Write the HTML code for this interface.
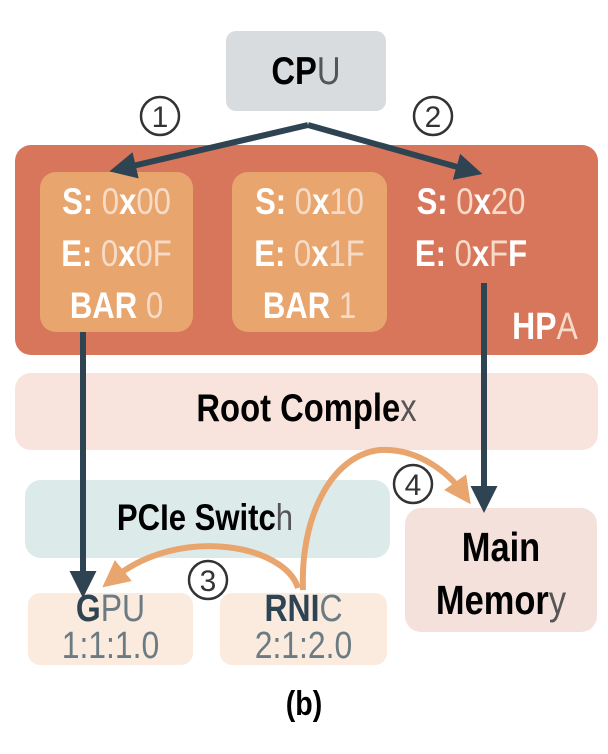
<!DOCTYPE html>
<html><head><style>
body{margin:0;width:608px;height:754px;background:#fff;font-family:"Liberation Sans",sans-serif;position:relative;overflow:hidden}
.b{position:absolute;border-radius:16px;box-sizing:border-box;text-align:center}
.t{position:absolute;font-weight:bold;white-space:nowrap;text-align:center;transform:scaleX(.84);transform-origin:center}
.w{color:#fff}.l{color:#f6dcc8;font-weight:normal}
</style></head><body>
<div class="b" style="left:226px;top:31px;width:160px;height:80px;background:#d9dcdf;border-radius:10px"></div>
<div class="t" style="left:226px;width:160px;top:50px;font-size:39px">CP<span style="color:#555;font-weight:normal">U</span></div>
<div class="b" style="left:15px;top:145px;width:583px;height:210px;background:#d8765c"></div>
<div class="b" style="left:40px;top:172px;width:153px;height:160px;background:#e8a56e"></div>
<div class="b" style="left:232px;top:172px;width:155px;height:160px;background:#e8a56e"></div>
<div class="t w" style="left:30px;top:176px;font-size:37px;line-height:52px;width:173px">S: <span class="l">0</span>x<span class="l">00</span><br>E: <span class="l">0</span>x<span class="l">0F</span><br>BAR <span class="l">0</span></div>
<div class="t w" style="left:222px;top:176px;font-size:37px;line-height:52px;width:175px">S: <span class="l">0</span>x<span class="l">10</span><br>E: <span class="l">0</span>x<span class="l">1F</span><br>BAR <span class="l">1</span></div>
<div class="t w" style="left:391px;top:176px;font-size:37px;line-height:52px;width:160px">S: <span class="l">0</span>x<span class="l">20</span><br>E: <span class="l">0</span>x<span class="l">F</span>F</div>
<div class="t w" style="left:500px;width:90px;top:306px;font-size:38px">HP<span class="l">A</span></div>
<div class="b" style="left:15px;top:373px;width:583px;height:77px;background:#f8e4dc"></div>
<div class="t" style="left:15px;width:583px;top:387px;font-size:39px">Root Comple<span style="color:#555;font-weight:normal">x</span></div>
<div class="b" style="left:25px;top:480px;width:365px;height:78px;background:#ddeaea"></div>
<div class="t" style="left:90px;width:230px;top:497px;font-size:37px">PCIe Switc<span style="color:#555;font-weight:normal">h</span></div>
<div class="b" style="left:405px;top:508px;width:192px;height:124px;background:#f5e1dc"></div>
<div class="t" style="left:391px;width:220px;top:521px;font-size:41px;line-height:53px">Main<br>Memor<span style="color:#555;font-weight:normal">y</span></div>
<div class="b" style="left:28px;top:593px;width:165px;height:72px;background:#fbebde;border-radius:12px"></div>
<div class="b" style="left:220px;top:593px;width:167px;height:72px;background:#fbebde;border-radius:12px"></div>
<div class="t" style="left:18px;width:185px;top:591px;font-size:38px;line-height:37px;color:#2e4452">G<span style="color:#6b7b83;font-weight:normal">PU</span><br><span style="color:#6b7b83;font-weight:normal">1:1:1.0</span></div>
<div class="t" style="left:210px;width:187px;top:591px;font-size:38px;line-height:37px;color:#2e4452">RNI<span style="color:#6b7b83;font-weight:normal">C</span><br><span style="color:#6b7b83;font-weight:normal">2:1:2.0</span></div>
<div class="t" style="left:0;width:608px;top:685px;font-size:34px">(b)</div>
<svg width="608" height="754" style="position:absolute;left:0;top:0">
<defs>
<marker id="d" markerWidth="4.5" markerHeight="4.5" refX="2" refY="2.25" orient="auto" markerUnits="strokeWidth"><path d="M0,0L4.5,2.25L0,4.5z" fill="#2e4452"/></marker>
<marker id="o" markerWidth="4.5" markerHeight="4.5" refX="2" refY="2.25" orient="auto" markerUnits="strokeWidth"><path d="M0,0L4.5,2.25L0,4.5z" fill="#e8a56e"/></marker>
</defs>
<g stroke="#2e4452" stroke-width="6" fill="none">
<path d="M308,125 L124,168" marker-end="url(#d)"/>
<path d="M308,125 L468,170" marker-end="url(#d)"/>
<path d="M83,332 L83,583" marker-end="url(#d)"/>
<path d="M484,283 L484,498" marker-end="url(#d)"/>
</g>
<g stroke="#e8a56e" stroke-width="6" fill="none">
<path d="M303,590 C300,520 330,455 380,450 C420,448 450,475 462,492" marker-end="url(#o)"/>
<path d="M298,588 C285,545 180,525 114,578" marker-end="url(#o)"/>
</g>
<g fill="none" stroke="#333" stroke-width="2.5">
<circle cx="160" cy="116" r="19"/><circle cx="433" cy="116" r="19"/>
<circle cx="208" cy="580" r="19"/><circle cx="413" cy="484" r="19"/>
</g>
<g font-family="Liberation Sans,sans-serif" font-size="30" fill="#333" text-anchor="middle">
<text x="160" y="127">1</text><text x="433" y="127">2</text>
<text x="208" y="591">3</text><text x="413" y="495">4</text>
</g>
</svg>
</body></html>
